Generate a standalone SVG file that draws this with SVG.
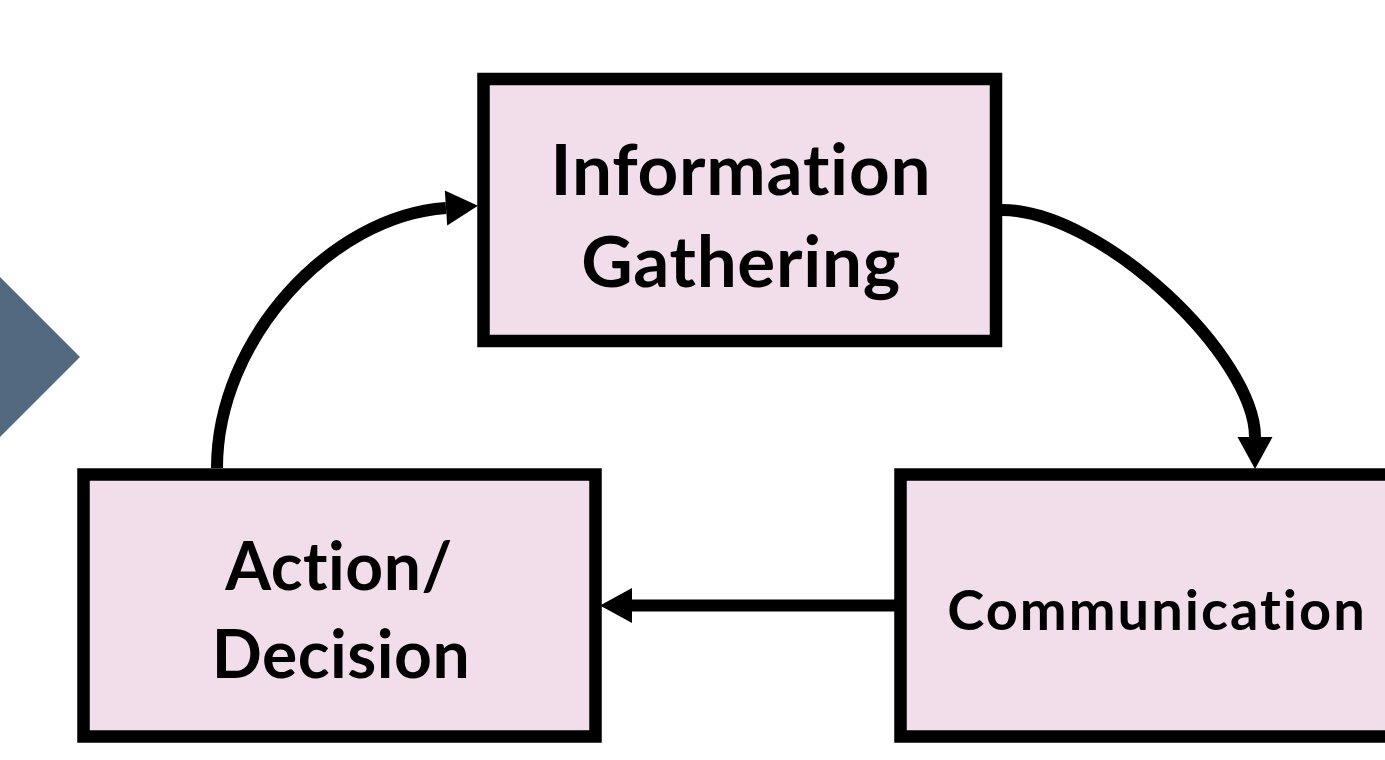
<svg xmlns="http://www.w3.org/2000/svg" width="1385" height="760" viewBox="0 0 1385 760">
  <style>
    .box { fill: #f2deea; stroke: #000; stroke-width: 12.5; }
    .label { font-family: Lato, "Open Sans", "Liberation Sans", sans-serif; font-weight: bold; fill: #000; text-anchor: middle; }
    .conn { fill: none; stroke: #000; stroke-width: 12; }
  </style>
  <defs>
    <marker id="head" markerUnits="userSpaceOnUse" markerWidth="32" markerHeight="36" refX="0" refY="17.5" orient="auto" overflow="visible">
      <path d="M0,0 L32,17.5 L0,35 Z" fill="#000"/>
    </marker>
  </defs>
  <rect width="1385" height="760" fill="#fff"/>

  <!-- chevron at left edge -->
  <polygon points="0,277 80,357 0,437" fill="#536980"/>

  <g id="connectors">
    <path class="conn" d="M217,468 C217,340 330,216 446,208" marker-end="url(#head)"/>
    <path class="conn" d="M1002,210 C1102,210 1255,357 1255,437" marker-end="url(#head)"/>
    <path class="conn" d="M895,605.5 L632,605.5" marker-end="url(#head)"/>
  </g>

  <g id="node-information">
    <rect class="box" x="483.5" y="79" width="512.5" height="262"/>
    <text class="label" x="741" y="195" font-size="71" letter-spacing="0.8">Information</text>
    <text class="label" x="741" y="287" font-size="71" letter-spacing="0.7">Gathering</text>
  </g>

  <g id="node-action">
    <rect class="box" x="83.5" y="474.5" width="512" height="262"/>
    <text class="label" x="339" y="590" font-size="66" letter-spacing="0.5">Action/</text>
    <text class="label" x="341" y="678" font-size="66" letter-spacing="0.5">Decision</text>
  </g>

  <g id="node-communication">
    <rect class="box" x="900.5" y="474.5" width="514" height="262"/>
    <text class="label" x="1157" y="630" font-size="56" letter-spacing="2">Communication</text>
  </g>
</svg>
